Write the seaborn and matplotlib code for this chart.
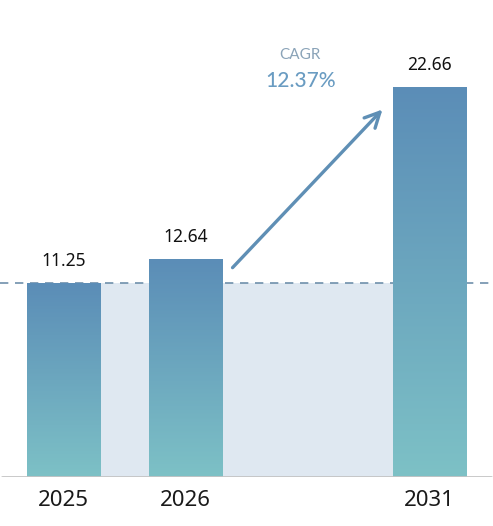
import matplotlib
matplotlib.use("Agg")
import matplotlib.pyplot as plt
import seaborn as sns
import numpy as np
import pandas as pd
from matplotlib.colors import LinearSegmentedColormap

years = ["2025", "2026", "", "2031"]
bar_years = ["2025", "2026", "2031"]
values = [11.25, 12.64, 22.66]
cagr_label = "CAGR"
cagr_value = "12.37%"

df = pd.DataFrame({"year": bar_years, "value": values})

sns.set_theme(style="white")
plt.rcParams["font.family"] = ["Noto Sans", "DejaVu Sans"]

fig = plt.figure(figsize=(4.93, 5.26), dpi=100)
ax = fig.add_axes([0, 1 - 477 / 526, 1, 477 / 526])

ax = sns.barplot(data=df, x="year", y="value", order=years, width=0.6,
                 color="#6aa0bd", ax=ax, zorder=3)

# gradient fill clipped to each bar
cmap = LinearSegmentedColormap.from_list("bar", ["#7dc1c6", "#5b8db7"])
grad = np.linspace(0, 1, 256).reshape(-1, 1)
for p in ax.patches:
    x0, y0 = p.get_x(), p.get_y()
    w, h = p.get_width(), p.get_height()
    if h <= 0 or np.isnan(h):
        continue
    im = ax.imshow(grad, cmap=cmap, origin="lower", aspect="auto",
                   extent=[x0, x0 + w, y0, y0 + h], zorder=3)
    im.set_clip_path(p)
    p.set_facecolor("none")
    p.set_edgecolor("none")

ax.set_xlim(-0.52, 3.52)
ax.set_ylim(0, 27.7)

# shaded band up to the first year's value
left = ax.patches[0].get_x()
right = ax.patches[-1].get_x() + ax.patches[-1].get_width()
ax.fill_between([left, right], 0, values[0], color="#dfe8f1", zorder=1, lw=0)
ax.axhline(values[0], color="#6f90ab", lw=1.2, ls=(0, (5, 4)), zorder=2)
ax.axhline(0, color="#c4c4c4", lw=2, zorder=4, xmin=0.004, xmax=0.996)

# value labels
for p, v in zip([q for q in ax.patches if q.get_height() > 0], values):
    ax.text(p.get_x() + p.get_width() / 2, v + 0.75, f"{v:.2f}",
            ha="center", va="bottom", fontsize=12.5, color="#111111",
            family=["Noto Sans", "DejaVu Sans"], fontweight="medium")

# CAGR arrow
ax.annotate("", xy=(2.63, values[2] - 1.2), xytext=(1.37, values[1] - 0.6),
            arrowprops=dict(arrowstyle="->,head_length=0.9,head_width=0.45",
                            color="#5f8fb5", lw=2.4), zorder=5)
ax.text(1.94, 24.5, cagr_label, ha="center", va="center", fontsize=11,
        color="#8aa3b8", family=["Lato", "DejaVu Sans"])
ax.text(1.94, 23.0, cagr_value, ha="center", va="center", fontsize=15,
        color="#6a9cc2", family=["Lato", "DejaVu Sans"], fontweight="medium")

ax.set_xlabel("")
ax.set_ylabel("")
ax.set_yticks([])
ax.tick_params(axis="x", length=0, pad=9, labelsize=16, labelcolor="#1a1a1a")
sns.despine(ax=ax, left=True, bottom=True)

fig.savefig("out.png", dpi=100)
